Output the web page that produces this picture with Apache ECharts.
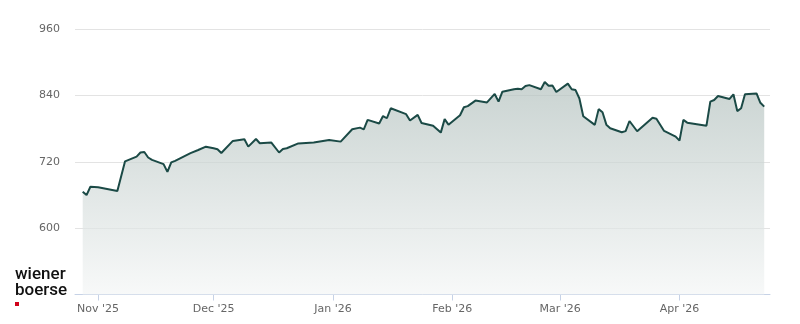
<!DOCTYPE html>
<html>
<head>
<meta charset="utf-8">
<script src="https://cdn.jsdelivr.net/npm/echarts@6/dist/echarts.min.js"></script>
<style>
html,body{margin:0;padding:0;background:#fff;}
#chart{width:800px;height:324px;}
</style>
</head>
<body>
<div id="chart"></div>
<script>
// ---- data ----
const dates = [
 "2025-10-28","2025-10-29","2025-10-30","2025-11-01","2025-11-06","2025-11-08","2025-11-11","2025-11-12","2025-11-13","2025-11-14",
 "2025-11-15","2025-11-18","2025-11-19","2025-11-20","2025-11-21","2025-11-25","2025-11-27","2025-11-29","2025-12-01","2025-12-02",
 "2025-12-03","2025-12-06","2025-12-09","2025-12-10","2025-12-12","2025-12-13","2025-12-16","2025-12-18","2025-12-19","2025-12-20",
 "2025-12-23","2025-12-27","2025-12-31","2026-01-03","2026-01-06","2026-01-08","2026-01-09","2026-01-10","2026-01-13","2026-01-14",
 "2026-01-15","2026-01-16","2026-01-20","2026-01-21","2026-01-23","2026-01-24","2026-01-27","2026-01-29","2026-01-30","2026-01-31",
 "2026-02-03","2026-02-04","2026-02-05","2026-02-07","2026-02-10","2026-02-12","2026-02-13","2026-02-14","2026-02-17","2026-02-18",
 "2026-02-19","2026-02-20","2026-02-21","2026-02-24","2026-02-25","2026-02-26","2026-02-27","2026-02-28","2026-03-03","2026-03-04",
 "2026-03-05","2026-03-06","2026-03-07","2026-03-10","2026-03-11","2026-03-12","2026-03-13","2026-03-14","2026-03-17","2026-03-18",
 "2026-03-19","2026-03-21","2026-03-25","2026-03-26","2026-03-28","2026-03-31","2026-04-01","2026-04-02","2026-04-03","2026-04-08",
 "2026-04-09","2026-04-10","2026-04-11","2026-04-14","2026-04-15","2026-04-16","2026-04-17","2026-04-18","2026-04-21","2026-04-22",
 "2026-04-23"
];
const values = [
 666,660,675,674,667.5,721,729.5,737,738,728,
 723.6,716,702,719,722,736,741.6,747.6,744.7,743,
 736,758,761,747.6,761.5,753.8,755,737,743.5,744.7,
 753.4,755,759.7,756.7,779,782,779,796,789.6,803,
 799,817,806.4,795,805,790.5,785.4,773,797.4,787.4,
 804.4,819,821,831,827.6,843,829,847,851.5,852.5,
 851.5,857.4,859,851.6,864.7,858,858.3,846.6,861.6,851.5,
 850,834.8,802.6,787,815.5,810,787.4,781,773.7,775.7,
 794,775.5,800,798,776,765.7,758.5,796,791,785.6,
 829,832,839.3,834,842.4,812,817,842.4,844,827,
 820
];
const xTickDates = ["2025-11-01","2025-12-01","2026-01-01","2026-02-01","2026-03-01","2026-04-01"];
const xTickLabels = ["Nov '25","Dec '25","Jan '26","Feb '26","Mar '26","Apr '26"];
const yTicks = [600, 720, 840, 960];
const xRange = ["2025-10-26T00:00", "2026-04-24T12:00"];

// ---- helpers ----
function ts(s){
  const [d, t] = s.split("T");
  const [y, m, dd] = d.split("-").map(Number);
  let h = 0, mi = 0;
  if (t) { [h, mi] = t.split(":").map(Number); }
  return Date.UTC(y, m - 1, dd, h, mi);
}
const seriesData = dates.map((d, i) => [ts(d), values[i]]);
const tickTs = xTickDates.map(ts);

const chart = echarts.init(document.getElementById('chart'), null, {renderer: 'canvas'});
chart.setOption({
  animation: false,
  backgroundColor: '#ffffff',
  grid: {left: 75, right: 30, top: 29.3, bottom: 29.5, containLabel: false},
  xAxis: {
    type: 'value',
    min: ts(xRange[0]),
    max: ts(xRange[1]),
    axisLine: {show: true, lineStyle: {color: '#c6d2e6', width: 1}},
    axisTick: {show: true, customValues: tickTs, length: 6, lineStyle: {color: '#c6d2e6'}},
    axisLabel: {
      customValues: tickTs,
      color: '#666666',
      fontFamily: 'DejaVu Sans',
      fontSize: 11,
      margin: 9,
      formatter: function (v) {
        const i = tickTs.indexOf(v);
        return i >= 0 ? xTickLabels[i] : '';
      }
    },
    splitLine: {show: false}
  },
  yAxis: {
    type: 'value',
    min: 480,
    max: 960,
    interval: 120,
    axisLine: {show: false},
    axisTick: {show: false},
    axisLabel: {
      color: '#666666',
      fontFamily: 'DejaVu Sans',
      fontSize: 11,
      margin: 15,
      formatter: function (v) { return yTicks.indexOf(v) >= 0 ? String(v) : ''; }
    },
    splitLine: {show: true, lineStyle: {color: '#e3e3e3', width: 1}}
  },
  series: [{
    type: 'line',
    data: seriesData,
    showSymbol: false,
    symbol: 'none',
    smooth: false,
    lineStyle: {color: '#1b4a46', width: 2},
    areaStyle: {
      color: new echarts.graphic.LinearGradient(0, 0, 0, 1, [
        {offset: 0, color: '#b3c1be'},
        {offset: 1, color: '#f4f6f6'}
      ])
    }
  }],
  graphic: [
    {type: 'text', left: 15, top: 266, style: {text: 'wiener', fill: '#111111', font: '500 17px Roboto, "Liberation Sans", sans-serif'}},
    {type: 'text', left: 15, top: 282, style: {text: 'boerse', fill: '#111111', font: '500 17px Roboto, "Liberation Sans", sans-serif'}},
    {type: 'rect', left: 15, top: 302, shape: {width: 4, height: 4}, style: {fill: '#d0021b'}}
  ]
});
</script>
</body>
</html>
